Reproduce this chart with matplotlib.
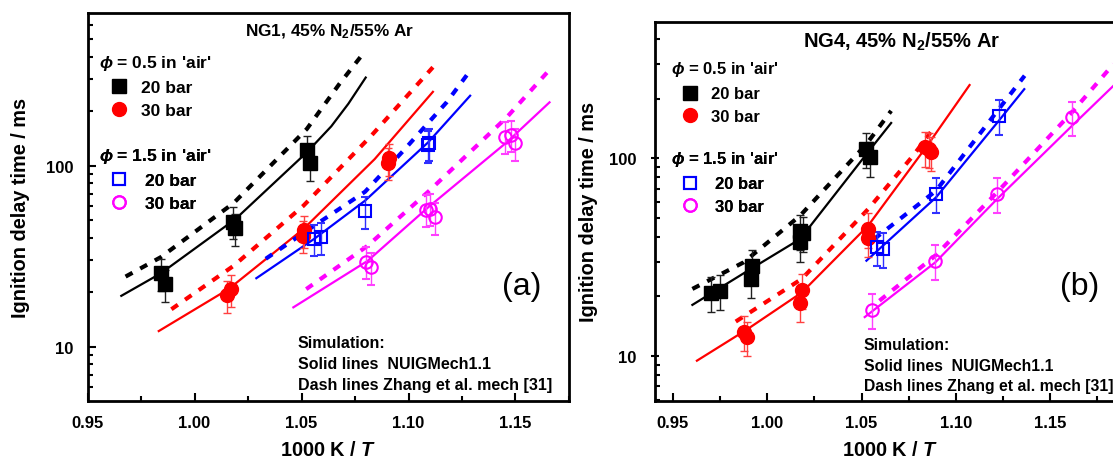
import matplotlib
matplotlib.use('Agg')
import matplotlib.pyplot as plt
from matplotlib.lines import Line2D
from matplotlib.ticker import FixedLocator, LogLocator, NullFormatter, MultipleLocator, FormatStrFormatter

plt.rcParams['font.family'] = ['Liberation Sans', 'DejaVu Sans']
plt.rcParams['font.weight'] = 'bold'
plt.rcParams['mathtext.fontset'] = 'custom'
plt.rcParams['mathtext.rm'] = 'Liberation Sans:bold'
plt.rcParams['mathtext.it'] = 'Liberation Sans:italic:bold'
plt.rcParams['mathtext.bf'] = 'Liberation Sans:bold'

# ---------------- Panel (a): NG1 ----------------
a_x_lean20 = [0.9842, 0.9862, 1.0179, 1.0189, 1.0525, 1.0539]
a_y_lean20 = [25.5, 22.2, 49.0, 45.1, 122.0, 103.5]
a_x_lean30 = [1.0154, 1.0172, 1.0505, 1.0512, 1.0904, 1.0908]
a_y_lean30 = [19.3, 20.8, 41.0, 44.0, 104.0, 110.0]
a_x_rich20 = [1.0559, 1.0592, 1.0797, 1.1090, 1.1096]
a_y_rich20 = [39.4, 40.2, 56.0, 130.0, 133.0]
a_x_rich30 = [1.0800, 1.0825, 1.1084, 1.1101, 1.1122, 1.1451, 1.1479, 1.1496]
a_y_rich30 = [29.5, 27.5, 57.2, 58.0, 51.9, 144.6, 148.0, 133.4]

a_nuig_lean20_x = [0.9658, 0.9842, 1.0192, 1.0525, 1.0639, 1.0719, 1.0800]
a_nuig_lean20_y = [19.1, 25.4, 50.8, 118.6, 165.0, 220.0, 307.0]
a_zhang_lean20_x = [0.9678, 0.9842, 1.0183, 1.0525, 1.0676, 1.0796]
a_zhang_lean20_y = [24.4, 31.2, 62.2, 159.7, 282.0, 428.0]
a_nuig_lean30_x = [0.9833, 1.0159, 1.0509, 1.0842, 1.1114]
a_nuig_lean30_y = [12.2, 20.8, 44.7, 108.8, 256.0]
a_zhang_lean30_x = [0.9892, 1.0183, 1.0509, 1.0825, 1.1114]
a_zhang_lean30_y = [16.1, 28.0, 60.1, 146.0, 350.0]
a_nuig_rich20_x = [1.0289, 1.0559, 1.0797, 1.1092, 1.1288]
a_nuig_rich20_y = [23.9, 39.4, 64.1, 134.7, 243.6]
a_zhang_rich20_x = [1.0333, 1.0559, 1.0797, 1.0976, 1.1178, 1.1288]
a_zhang_rich20_y = [30.6, 46.6, 71.8, 121.0, 224.0, 335.0]
a_nuig_rich30_x = [1.0462, 1.0809, 1.1092, 1.1459, 1.1659]
a_nuig_rich30_y = [16.5, 29.8, 58.9, 134.7, 224.0]
a_zhang_rich30_x = [1.0522, 1.0809, 1.1092, 1.1459, 1.1659]
a_zhang_rich30_y = [20.8, 36.1, 71.8, 185.0, 339.0]

# ---------------- Panel (b): NG4 ----------------
b_x_lean20 = [0.9702, 0.9747, 0.9912, 0.9917, 1.0174, 1.0174, 1.0189, 1.0526, 1.0545]
b_y_lean20 = [20.9, 21.3, 24.5, 28.6, 43.0, 37.5, 41.8, 111.4, 101.0]
b_x_lean30 = [0.9878, 0.9893, 1.0174, 1.0183, 1.0535, 1.0535, 1.0839, 1.0857, 1.0870]
b_y_lean30 = [13.2, 12.4, 18.6, 21.5, 43.8, 39.4, 113.6, 111.4, 107.2]
b_x_rich20 = [1.0582, 1.0614, 1.0895, 1.1228]
b_y_rich20 = [35.4, 34.7, 65.9, 164.4]
b_x_rich30 = [1.0558, 1.0891, 1.1219, 1.1616]
b_y_rich30 = [17.1, 30.3, 65.9, 161.4]

b_nuig_lean20_x = [0.9603, 0.9912, 1.0174, 1.0526, 1.0657]
b_nuig_lean20_y = [18.1, 27.5, 39.0, 105.0, 151.0]
b_zhang_lean20_x = [0.9603, 0.9874, 1.0174, 1.0526, 1.0657]
b_zhang_lean20_y = [21.8, 29.7, 51.2, 118.0, 174.0]
b_nuig_lean30_x = [0.9627, 0.9893, 1.0183, 1.0535, 1.0848, 1.1073]
b_nuig_lean30_y = [9.44, 13.6, 20.9, 45.6, 115.8, 235.0]
b_zhang_lean30_x = [0.9833, 1.0183, 1.0535, 1.0773, 1.0867]
b_zhang_lean30_y = [14.9, 24.5, 55.3, 103.0, 135.6]
b_nuig_rich20_x = [1.0526, 1.0895, 1.1228, 1.1363]
b_nuig_rich20_y = [30.3, 63.4, 155.0, 224.0]
b_zhang_rich20_x = [1.0567, 1.0895, 1.1228, 1.1365]
b_zhang_rich20_y = [39.0, 68.5, 177.6, 262.0]
b_nuig_rich30_x = [1.0517, 1.0891, 1.1219, 1.1616, 1.1836]
b_nuig_rich30_y = [15.7, 29.7, 62.2, 146.0, 233.0]
b_zhang_rich30_x = [1.0595, 1.0891, 1.1219, 1.1616, 1.1836]
b_zhang_rich30_y = [19.0, 32.1, 67.3, 171.0, 300.0]

rel_error = 0.2  # experimental uncertainty (fraction)

x_ticks = [0.95, 1.00, 1.05, 1.10, 1.15]
y_ticks = [10, 100]
y_ticklabels = ['10', '100']

colors = {'lean20': 'black', 'lean30': '#ff0000', 'rich20': '#0000ff', 'rich30': '#ff00ff'}
err_colors = {'lean20': '#202020', 'lean30': '#ff4040', 'rich20': '#3030ff', 'rich30': '#ff40ff'}

W, H = 1113, 460
fig = plt.figure(figsize=(W / 100, H / 100), dpi=100)


def fx(px):
    return px / W


def fy(py):
    return 1 - py / H


def add_axes(left, right, top, bottom):
    return fig.add_axes([fx(left), fy(bottom), fx(right) - fx(left), fy(top) - fy(bottom)])


ax_a = add_axes(87.5, 569, 14, 401.7)
ax_b = add_axes(654.5, 1125.5, 22.7, 401.7)


def draw(ax, pts, lines, xlim, ylim, ylab_x, xlab_y, ymajor_dir):
    # simulations
    for key, (nx, ny, zx, zy) in lines.items():
        c = colors[key]
        ax.plot(nx, ny, '-', color=c, lw=1.6, zorder=2)
        ax.plot(zx, zy, color=c, lw=3.0, ls=(0, (1.9, 2.1)), zorder=2)
    # experiments
    styles = {
        'lean20': dict(marker='s', ms=9.5, mfc='black', mec='black'),
        'lean30': dict(marker='o', ms=10, mfc='#ff0000', mec='#ff0000'),
        'rich20': dict(marker='s', ms=8, mfc='none', mec='#0000ff', mew=1.5),
        'rich30': dict(marker='o', ms=9, mfc='none', mec='#ff00ff', mew=1.5),
    }
    for key, (x, y) in pts.items():
        err = [[v * rel_error for v in y], [v * rel_error for v in y]]
        ax.errorbar(x, y, yerr=err, ls='none', ecolor=err_colors[key], elinewidth=1.0,
                    capsize=3, capthick=1.0, zorder=3, **styles[key])
    ax.set_yscale('log')
    ax.set_xlim(*xlim)
    ax.set_ylim(*ylim)
    ax.xaxis.set_major_locator(FixedLocator(x_ticks))
    ax.xaxis.set_major_formatter(FormatStrFormatter('%.2f'))
    ax.xaxis.set_minor_locator(MultipleLocator(0.025))
    ax.yaxis.set_major_locator(FixedLocator(y_ticks))
    ax.set_yticklabels(y_ticklabels)
    ax.yaxis.set_minor_locator(LogLocator(base=10, subs=range(2, 10)))
    ax.yaxis.set_minor_formatter(NullFormatter())
    ax.tick_params(which='major', direction='in', length=6, width=1.5, labelsize=12, pad=10)
    ax.tick_params(axis='y', which='major', direction=ymajor_dir)
    ax.tick_params(which='minor', direction='in', length=3.5, width=1.5)
    for s in ax.spines.values():
        s.set_linewidth(2)
    ax.set_xlabel('1000 K / $T$', fontsize=14.3, fontweight='bold')
    ax.set_ylabel('Ignition delay time / ms', fontsize=14.3, fontweight='bold')
    ax.yaxis.set_label_coords(ylab_x, 0.5)
    ax.xaxis.set_label_coords(0.5, xlab_y)


def legends(ax, fs, x0, ytop1, ytop2, pad1, pad2):
    h1 = [Line2D([], [], ls='none', marker='s', ms=9.5, color='black'),
          Line2D([], [], ls='none', marker='o', ms=10, color='#ff0000')]
    h2 = [Line2D([], [], ls='none', marker='s', ms=8, mfc='none', mec='#0000ff', mew=1.5),
          Line2D([], [], ls='none', marker='o', ms=9, mfc='none', mec='#ff00ff', mew=1.5)]
    for hs, title, ytop, pad in [(h1, "$\\phi$ = 0.5 in 'air'", ytop1, pad1),
                                 (h2, "$\\phi$ = 1.5 in 'air'", ytop2, pad2)]:
        lg = ax.legend(hs, ['20 bar', '30 bar'], title=title, loc='upper left',
                       bbox_to_anchor=(fx(x0), fy(ytop)), bbox_transform=fig.transFigure,
                       frameon=False, borderpad=0, borderaxespad=0, alignment='left',
                       handlelength=2.3, handletextpad=pad, labelspacing=0.45,
                       prop={'size': fs, 'weight': 'bold'},
                       title_fontproperties={'size': fs, 'weight': 'bold'})
        lg._legend_box.sep = 6
        ax.add_artist(lg)


draw(ax_a,
     {'lean20': (a_x_lean20, a_y_lean20), 'lean30': (a_x_lean30, a_y_lean30),
      'rich20': (a_x_rich20, a_y_rich20), 'rich30': (a_x_rich30, a_y_rich30)},
     {'lean20': (a_nuig_lean20_x, a_nuig_lean20_y, a_zhang_lean20_x, a_zhang_lean20_y),
      'lean30': (a_nuig_lean30_x, a_nuig_lean30_y, a_zhang_lean30_x, a_zhang_lean30_y),
      'rich20': (a_nuig_rich20_x, a_nuig_rich20_y, a_zhang_rich20_x, a_zhang_rich20_y),
      'rich30': (a_nuig_rich30_x, a_nuig_rich30_y, a_zhang_rich30_x, a_zhang_rich30_y)},
     (0.95, 1.175), (5.03, 698), -0.120, -0.102, 'in')

draw(ax_b,
     {'lean20': (b_x_lean20, b_y_lean20), 'lean30': (b_x_lean30, b_y_lean30),
      'rich20': (b_x_rich20, b_y_rich20), 'rich30': (b_x_rich30, b_y_rich30)},
     {'lean20': (b_nuig_lean20_x, b_nuig_lean20_y, b_zhang_lean20_x, b_zhang_lean20_y),
      'lean30': (b_nuig_lean30_x, b_nuig_lean30_y, b_zhang_lean30_x, b_zhang_lean30_y),
      'rich20': (b_nuig_rich20_x, b_nuig_rich20_y, b_zhang_rich20_x, b_zhang_rich20_y),
      'rich30': (b_nuig_rich30_x, b_nuig_rich30_y, b_zhang_rich30_x, b_zhang_rich30_y)},
     (0.9402, 1.19), (5.92, 492), -0.120, -0.104, 'inout')

legends(ax_a, 12.5, 99, 54, 147, 0.1, 0.35)
legends(ax_b, 12.0, 671, 60, 150, 0.1, 0.35)

# titles
fig.text(fx(329.5), fy(31.7), 'NG1, 45% N$_2$/55% Ar', ha='center', va='center',
         fontsize=12.4, fontweight='bold')
fig.text(fx(901.5), fy(41.7), 'NG4, 45% N$_2$/55% Ar', ha='center', va='center',
         fontsize=14.5, fontweight='bold')

# simulation notes
for x0, ys, fs in [(298, (343, 364.3, 385.7), 11.5), (864, (346, 366.7, 386.7), 11.3)]:
    for yy, s in zip(ys, ['Simulation:', 'Solid lines  NUIGMech1.1',
                          'Dash lines Zhang et al. mech [31]']):
        fig.text(fx(x0), fy(yy), s, ha='left', va='center', fontsize=fs, fontweight='bold')

# panel labels
fig.text(fx(522), fy(287), '(a)', ha='center', va='center', fontsize=23, fontweight='normal')
fig.text(fx(1080), fy(287), '(b)', ha='center', va='center', fontsize=23, fontweight='normal')

fig.savefig('out.png', dpi=100)
